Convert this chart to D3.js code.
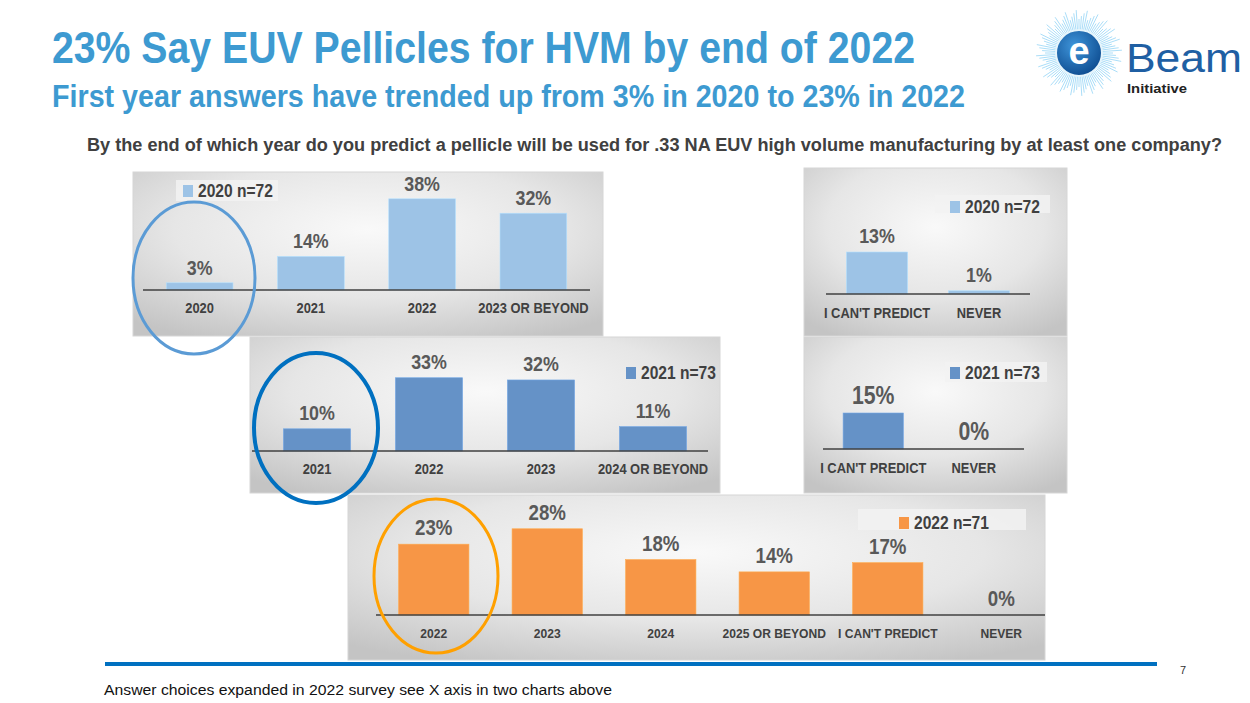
<!DOCTYPE html>
<html><head><meta charset="utf-8">
<script src="https://cdn.jsdelivr.net/npm/d3@7"></script>
<style>
html,body{margin:0;padding:0;background:#fff;}
svg{display:block;}
text{font-family:'Liberation Sans Narrow','Arial Narrow','Liberation Sans',Arial,sans-serif;}
</style></head>
<body>
<svg id="c" width="1250" height="703"></svg>
<script>
// ---------- DATA ----------
const cats2020 = ["2020", "2021", "2022", "2023 OR BEYOND"];
const vals2020 = [3, 14, 38, 32];
const cats2020b = ["I CAN'T  PREDICT", "NEVER"];
const vals2020b = [13, 1];
const cats2021 = ["2021", "2022", "2023", "2024 OR BEYOND"];
const vals2021 = [10, 33, 32, 11];
const cats2021b = ["I CAN'T PREDICT", "NEVER"];
const vals2021b = [15, 0];
const cats2022 = ["2022", "2023", "2024", "2025 OR BEYOND", "I CAN'T PREDICT", "NEVER"];
const vals2022 = [23, 28, 18, 14, 17, 0];
const legend2020 = "2020 n=72";
const legend2021 = "2021 n=73";
const legend2022 = "2022 n=71";

const titleText = "23% Say EUV Pellicles for HVM by end of 2022";
const subtitleText = "First year answers have trended up from 3% in 2020 to 23% in 2022";
const questionText = "By the end of which year do you predict a pellicle will be used for .33 NA EUV high volume manufacturing by at least one company?";
const footerText = "Answer choices expanded in 2022 survey see X axis in two charts above";

const svg = d3.select("#c");
const defs = svg.append("defs");
const grad = defs.append("radialGradient").attr("id","pg").attr("cx","50%").attr("cy","35%").attr("r","75%");
grad.append("stop").attr("offset","0%").attr("stop-color","#f9f9f9");
grad.append("stop").attr("offset","55%").attr("stop-color","#e6e6e6");
grad.append("stop").attr("offset","100%").attr("stop-color","#c4c4c4");

function fit(sel, w){
  const n = sel.node();
  const len = n.getComputedTextLength();
  if (Math.abs(len - w) > 2) sel.attr("textLength", w).attr("lengthAdjust","spacingAndGlyphs");
  return sel;
}
function narrow(sel, f){
  sel.each(function(){
    const len = this.getComputedTextLength();
    d3.select(this).attr("textLength", len*f).attr("lengthAdjust","spacingAndGlyphs");
  });
  return sel;
}

// ---------- TITLES ----------
fit(svg.append("text").attr("x",52).attr("y",63).attr("font-size",44).attr("font-weight","bold")
  .attr("fill","#3d9ad1").text(titleText), 863);
fit(svg.append("text").attr("x",52).attr("y",107).attr("font-size",31).attr("font-weight","bold")
  .attr("fill","#3d9ad1").text(subtitleText), 913);
fit(svg.append("text").attr("x",87).attr("y",151).attr("font-size",18).attr("font-weight","bold")
  .attr("fill","#404040").text(questionText), 1135);

// ---------- LOGO ----------
const logo = svg.append("g");
const lc = [1079, 53];
d3.range(96).forEach(i=>{
  const a = i/96*2*Math.PI;
  const r2 = 34 + (i%4)*3;
  logo.append("line").attr("x1",lc[0]+Math.cos(a)*22).attr("y1",lc[1]+Math.sin(a)*22)
    .attr("x2",lc[0]+Math.cos(a)*r2).attr("y2",lc[1]+Math.sin(a)*r2)
    .attr("stroke","#8fd3f6").attr("stroke-width",1).attr("opacity",0.75);
});
const lg = defs.append("radialGradient").attr("id","lg").attr("cx","40%").attr("cy","35%").attr("r","70%");
lg.append("stop").attr("offset","0%").attr("stop-color","#3f95da");
lg.append("stop").attr("offset","100%").attr("stop-color","#0c4a8e");
logo.append("circle").attr("cx",lc[0]).attr("cy",lc[1]).attr("r",23).attr("fill","url(#lg)").attr("stroke","#e6f5fc").attr("stroke-width",2);
logo.append("text").attr("x",lc[0]).attr("y",lc[1]+11).attr("text-anchor","middle").attr("font-size",38)
  .attr("font-weight","bold").attr("fill","#fff").style("font-family","'Liberation Sans',Arial,sans-serif").text("e");
fit(logo.append("text").attr("x",1126).attr("y",72).attr("font-size",40).attr("fill","#1f5fa3")
  .style("font-family","'Liberation Sans',Arial,sans-serif").text("Beam"), 116);
fit(logo.append("text").attr("x",1127).attr("y",93).attr("font-size",13).attr("font-weight","bold").attr("fill","#222")
  .style("font-family","'Liberation Sans',Arial,sans-serif").text("Initiative"), 60);

// ---------- PANEL HELPER ----------
function panel(o){
  const g = svg.append("g");
  g.append("rect").attr("x",o.px).attr("y",o.py).attr("width",o.pw).attr("height",o.ph)
    .attr("fill","url(#pg)").attr("stroke","#d6d6d6").attr("stroke-width",1);
  const x = d3.scaleBand().domain(o.cats).range(o.xr).paddingInner(o.pi).paddingOuter(o.po);
  const y = d3.scaleLinear().domain([0,o.ymax]).range([o.base, o.base - o.ymax*o.ppu]);
  // legend
  if (o.legBg) g.append("rect").attr("x",o.legBg[0]).attr("y",o.legBg[1]).attr("width",o.legBg[2]).attr("height",o.legBg[3]).attr("fill","#f2f2f2").attr("opacity",0.85);
  g.append("rect").attr("x",o.leg[0]).attr("y",o.leg[1]-12).attr("width",10).attr("height",12).attr("fill",o.color);
  narrow(g.append("text").attr("x",o.leg[0]+15).attr("y",o.leg[1]).attr("font-size",19).attr("font-weight","bold")
    .attr("fill","#404040").text(o.legend), 0.82);
  // bars
  const data = o.cats.map((c,i)=>({c, v:o.vals[i]}));
  g.selectAll("rect.bar").data(data).enter().append("rect").attr("class","bar")
    .attr("x",d=>x(d.c)).attr("width",x.bandwidth())
    .attr("y",d=>y(d.v)).attr("height",d=>y(0)-y(d.v))
    .attr("fill",o.color).attr("stroke",d3.color(o.color).brighter(0.4)).attr("stroke-width",0.6);
  // axis line
  const ax = d3.axisBottom(x).tickSize(0).tickPadding(o.tickPad);
  const axg = g.append("g").attr("transform",`translate(0,${o.base})`).call(ax);
  axg.select(".domain").attr("stroke","#404040").attr("stroke-width",1.6)
    .attr("d",`M${o.axisX[0]},0H${o.axisX[1]}`);
  const tt = axg.selectAll(".tick text").attr("font-size",o.catSize).attr("font-weight","bold").attr("fill","#404040")
    .style("font-family","'Liberation Sans Narrow','Arial Narrow','Liberation Sans',Arial,sans-serif");
  narrow(tt, o.catNarrow || 0.92);
  // value labels
  const vl = g.selectAll("text.val").data(data).enter().append("text").attr("class","val")
    .attr("x",d=>x(d.c)+x.bandwidth()/2).attr("y",d=>y(d.v)-o.valGap)
    .attr("text-anchor","middle").attr("font-size",o.valSize).attr("font-weight","bold").attr("fill","#595959")
    .text(d=>d.v+"%");
  narrow(vl, 0.85);
  return g;
}

const c2020 = "#9dc3e6", c2021 = "#6592c7", c2022 = "#f79646";

panel({px:133,py:172,pw:470,ph:164,cats:cats2020,vals:vals2020,xr:[144,589],pi:0.4,po:0.2,
  ymax:40,ppu:2.4,base:290,color:c2020,leg:[183,197],legBg:[176,180,102,21],legend:legend2020,
  axisX:[143,590],tickPad:13,catSize:14,valSize:21,valGap:8});
panel({px:804,py:168,pw:263,ph:168,cats:cats2020b,vals:vals2020b,xr:[826,1030],pi:0.4,po:0.2,
  ymax:15,ppu:3.23,base:294,color:c2020,leg:[950,213],legBg:[935,195,115,18],legend:legend2020,
  axisX:[826,1030],tickPad:14,catSize:14,valSize:21,valGap:9});
panel({px:250,py:337,pw:470,ph:156,cats:cats2021,vals:vals2021,xr:[261,709],pi:0.4,po:0.2,
  ymax:40,ppu:2.22,base:451,color:c2021,leg:[626,379],legBg:null,legend:legend2021,
  axisX:[252,708],tickPad:13,catSize:14,valSize:21,valGap:9});
panel({px:804,py:337,pw:263,ph:156,cats:cats2021b,vals:vals2021b,xr:[823,1024],pi:0.4,po:0.2,
  ymax:15,ppu:2.4,base:449,color:c2021,leg:[950,379],legBg:[945,362,102,20],legend:legend2021,
  axisX:[823,1024],tickPad:14,catSize:14,valSize:25,valGap:9});
panel({px:348,py:495,pw:697,ph:165,cats:cats2022,vals:vals2022,xr:[377,1058],pi:0.38,po:0.19,
  ymax:30,ppu:3.08,base:615,color:c2022,leg:[899,529],legBg:[858,509,168,21],legend:legend2022,
  axisX:[376,1045],tickPad:14,catSize:13,catNarrow:0.93,valSize:22,valGap:9});

// ---------- HIGHLIGHT ELLIPSES ----------
svg.append("ellipse").attr("cx",194).attr("cy",278).attr("rx",61).attr("ry",76)
  .attr("fill","none").attr("stroke","#5b9bd5").attr("stroke-width",3);
svg.append("ellipse").attr("cx",316).attr("cy",428).attr("rx",62).attr("ry",75)
  .attr("fill","none").attr("stroke","#0070c0").attr("stroke-width",4);
svg.append("ellipse").attr("cx",436).attr("cy",576).attr("rx",62).attr("ry",77)
  .attr("fill","none").attr("stroke","#ffa000").attr("stroke-width",3);

// ---------- FOOTER ----------
svg.append("line").attr("x1",105).attr("x2",1157).attr("y1",664).attr("y2",664)
  .attr("stroke","#0070c0").attr("stroke-width",4);
svg.append("text").attr("x",1180).attr("y",674).attr("font-size",11).attr("fill","#333").text("7");
fit(svg.append("text").attr("x",104).attr("y",695).attr("font-size",14).attr("fill","#111").text(footerText), 508);
</script>
</body></html>
